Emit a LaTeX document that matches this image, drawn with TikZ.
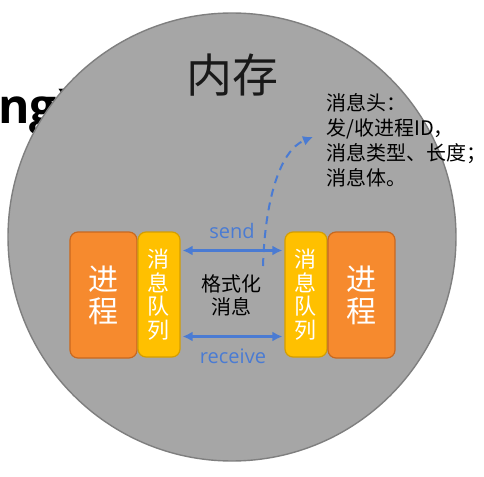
\documentclass[tikz,border=0pt]{standalone}
\usepackage{fontspec}
\setmainfont{Open Sans}
\newfontfamily\cjk{Noto Sans CJK SC}
\usetikzlibrary{arrows.meta}
\definecolor{memgray}{HTML}{A6A6A6}
\definecolor{memline}{HTML}{7F7F7F}
\definecolor{procfill}{HTML}{F68A2E}
\definecolor{procline}{HTML}{C8681F}
\definecolor{queuefill}{HTML}{FFC000}
\definecolor{queueline}{HTML}{D49E00}
\definecolor{msgblue}{HTML}{4A7BD3}

\begin{document}
\begin{tikzpicture}[x=0.5pt,y=-0.5pt,>={Latex[length=5pt,width=5pt]},
  procbox/.style={draw=procline, fill=procfill, rounded corners=4pt, line width=0.6pt,
    minimum width=33.5pt, minimum height=63pt, inner sep=0pt, align=center,
    text=white, font=\cjk\fontsize{15pt}{16pt}\selectfont},
  queuebox/.style={draw=queueline, fill=queuefill, rounded corners=4pt, line width=0.6pt,
    minimum width=21pt, minimum height=62.5pt, inner sep=0pt, align=center,
    text=white, font=\cjk\fontsize{11pt}{11.8pt}\selectfont},
  msgarr/.style={<->, draw=msgblue, line width=1.2pt},
  lbl/.style={text=msgblue, font=\fontsize{10pt}{12pt}\selectfont}]
  \useasboundingbox (0,0) rectangle (484,477);

  % leftover slide title, partly hidden by the circle
  \node[anchor=base west, inner sep=0pt, font=\bfseries\fontsize{24pt}{24pt}\selectfont] (slide) at (-2,123) {ng)};

  \node[circle, draw=memline, fill=memgray, line width=0.7pt, minimum size=224pt, inner sep=0pt] (mem) at (232,237) {};
  \node[font=\cjk\fontsize{23pt}{23pt}\selectfont, text=black!90] (memtitle) at (233,75) {内存};

  \node[procbox] (lp) at (103.5,295) {进\\程};
  \node[queuebox] (lq) at (159,294.5) {消\\息\\队\\列};
  \node[queuebox] (rq) at (306,294.5) {消\\息\\队\\列};
  \node[procbox] (rp) at (361.5,295) {进\\程};

  \node[align=center, font=\cjk\fontsize{10pt}{11.5pt}\selectfont] (fmt) at (232,295.5) {格式化\\消息};

  \coordinate (s1) at ([shift={(1pt,22pt)}]lq.east);
  \coordinate (s2) at ([shift={(-1pt,22pt)}]rq.west);
  \coordinate (r1) at ([shift={(1pt,-21pt)}]lq.east);
  \coordinate (r2) at ([shift={(-1pt,-21pt)}]rq.west);
  \draw[msgarr] (s1) -- (s2);
  \draw[msgarr] (r1) -- (r2);
  \node[lbl] (send) at (232,231) {send};
  \node[lbl] (recv) at (233,356) {receive};

  \node[anchor=west, align=left, inner sep=0pt, font=\cjk\fontsize{10pt}{12.5pt}\selectfont] (hdr) at (326,140)
    {消息头：\\发/收进程ID，\\消息类型、长度；\\消息体。};

  \coordinate (dstart) at (263,266);
  \draw[->, draw=msgblue, line width=1pt, dash pattern=on 4pt off 3pt]
    (dstart) .. controls (265,200) and (280,150) .. ([shift={(-6.5pt,1.5pt)}]hdr.west);
\end{tikzpicture}
\end{document}
